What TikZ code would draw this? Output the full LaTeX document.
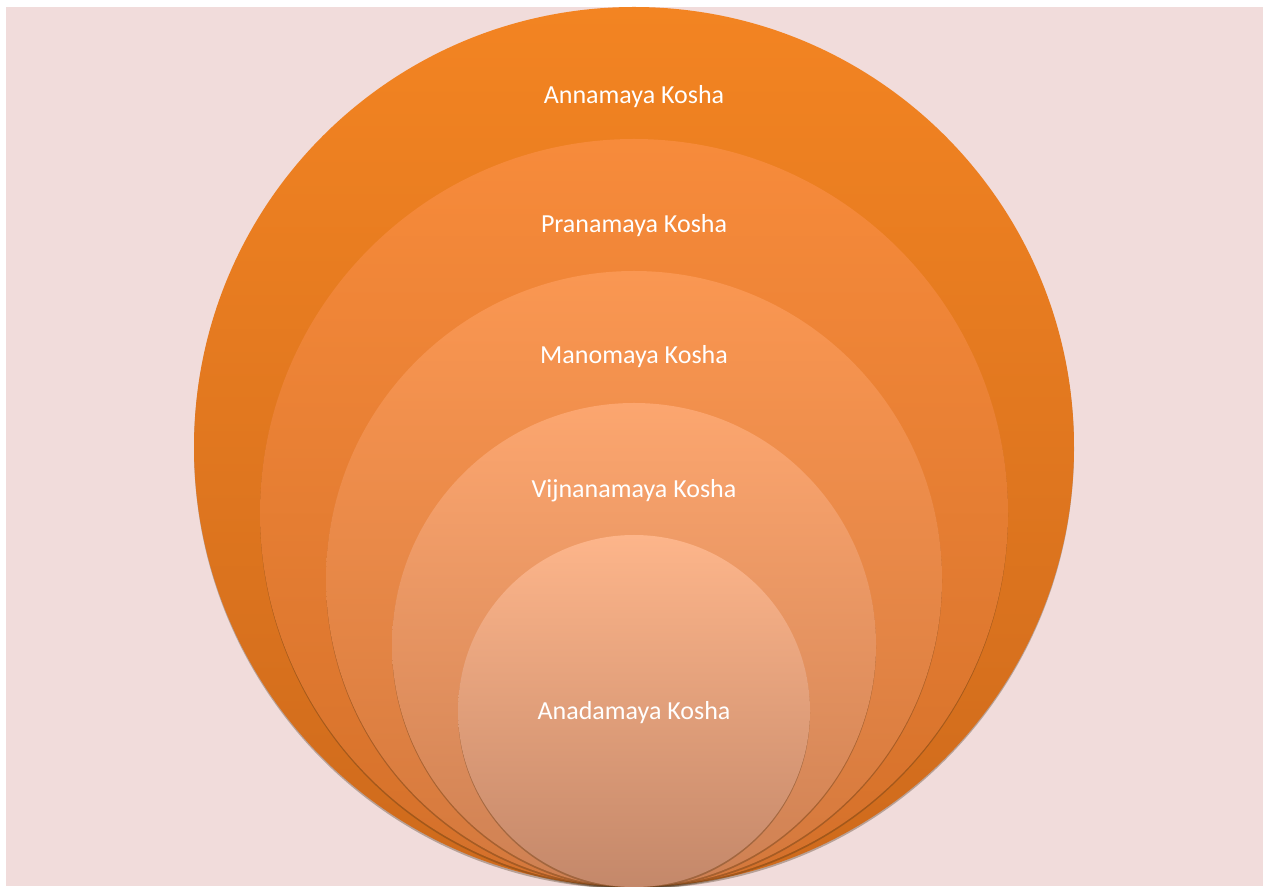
\documentclass[tikz,border=0pt]{standalone}
\usepackage{fontspec}
\setmainfont{Carlito}
\usetikzlibrary{shadows}
\definecolor{bgpink}{RGB}{241,220,219}
\definecolor{aTop}{RGB}{243,132,34}
\definecolor{aBot}{RGB}{206,106,28}
\definecolor{bTop}{RGB}{247,139,59}
\definecolor{bBot}{RGB}{212,112,42}
\definecolor{cTop}{RGB}{250,151,82}
\definecolor{cBot}{RGB}{212,120,60}
\definecolor{dTop}{RGB}{252,166,111}
\definecolor{dBot}{RGB}{206,128,82}
\definecolor{eTop}{RGB}{253,181,138}
\definecolor{eBot}{RGB}{196,136,106}
\tikzset{
  kosha/.style={circle, inner sep=0pt, outer sep=0pt,
    drop shadow={shadow xshift=0pt, shadow yshift=-2pt, opacity=0.35, fill=black!60!brown}},
  lbl/.style={text=white, font=\fontsize{26}{30}\selectfont, inner sep=0pt, anchor=base}
}
\begin{document}
\begin{tikzpicture}[x=1pt,y=1pt]
\useasboundingbox (0,0) rectangle (1271,886);
\fill[white] (0,0) rectangle (1271,886);
\fill[bgpink] (6,0) rectangle (1263,879);
\clip (0,0) rectangle (1271,886);
\node[kosha, minimum size=880pt, top color=aTop, bottom color=aBot] (c1) at (634,439) {};
\node[kosha, minimum size=748pt, top color=bTop, bottom color=bBot] (c2) at (634,373) {};
\node[kosha, minimum size=616pt, top color=cTop, bottom color=cBot] (c3) at (634,307) {};
\node[kosha, minimum size=484pt, top color=dTop, bottom color=dBot] (c4) at (634,241) {};
\node[kosha, minimum size=352pt, top color=eTop, bottom color=eBot] (c5) at (634,175) {};
\node[lbl] (t1) at (634,782) {Annamaya Kosha};
\node[lbl] (t2) at (634,653) {Pranamaya Kosha};
\node[lbl] (t3) at (634,522) {Manomaya Kosha};
\node[lbl] (t4) at (634,388) {Vijnanamaya Kosha};
\node[lbl] (t5) at (634,166) {Anadamaya Kosha};
\end{tikzpicture}
\end{document}
